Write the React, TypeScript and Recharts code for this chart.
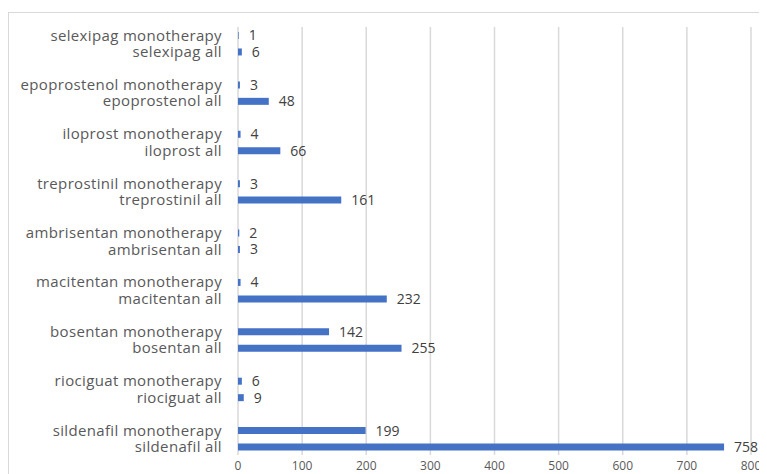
import React from "react";
import { BarChart, Bar, XAxis, YAxis, CartesianGrid, LabelList } from "recharts";

const drugs = [
  "selexipag",
  "epoprostenol",
  "iloprost",
  "treprostinil",
  "ambrisentan",
  "macitentan",
  "bosentan",
  "riociguat",
  "sildenafil",
];
const monotherapyValues = [1, 3, 4, 3, 2, 4, 142, 6, 199];
const allValues = [6, 48, 66, 161, 3, 232, 255, 9, 758];
const xTicks = [0, 100, 200, 300, 400, 500, 600, 700, 800];

type Row = { key: string; name: string; value: number | null };
const rows: Row[] = [];
drugs.forEach((d, i) => {
  if (i > 0) rows.push({ key: "gap" + i, name: "", value: null });
  rows.push({ key: d + "-mono", name: d + " monotherapy", value: monotherapyValues[i] });
  rows.push({ key: d + "-all", name: d + " all", value: allValues[i] });
});

const FONT = "'Open Sans', sans-serif";

export default function App() {
  return (
    <div
      style={{
        marginTop: 4,
        width: 780,
        height: 480,
        border: "1px solid #d9d9d9",
        boxSizing: "border-box",
        background: "#fff",
      }}
    >
      <BarChart
        width={760}
        height={470}
        data={rows}
        layout="vertical"
        margin={{ top: 14, right: 18, bottom: 8, left: 0 }}
        barCategoryGap={0}
      >
        <CartesianGrid horizontal={false} vertical={true} stroke="#d9d9d9" strokeWidth={1.5} />
        <XAxis
          type="number"
          domain={[0, 800]}
          ticks={xTicks}
          interval={0}
          axisLine={false}
          tickLine={false}
          tickMargin={0}
          height={20}
          tick={{ fill: "#595959", fontSize: 12, fontFamily: FONT }}
        />
        <YAxis
          type="category"
          dataKey="name"
          width={229}
          interval={0}
          axisLine={false}
          tickLine={false}
          tickSize={8}
          tickMargin={8}
          tick={{ fill: "#595959", fontSize: 15, fontFamily: FONT, letterSpacing: 0.35 }}
        />
        <Bar dataKey="value" fill="#4472C4" barSize={7} isAnimationActive={false}>
          <LabelList
            dataKey="value"
            position="right"
            offset={10}
            formatter={(v: any) => (v === null || v === undefined ? "" : v)}
            style={{ fill: "#404040", fontSize: 14, fontFamily: FONT }}
          />
        </Bar>
      </BarChart>
    </div>
  );
}
